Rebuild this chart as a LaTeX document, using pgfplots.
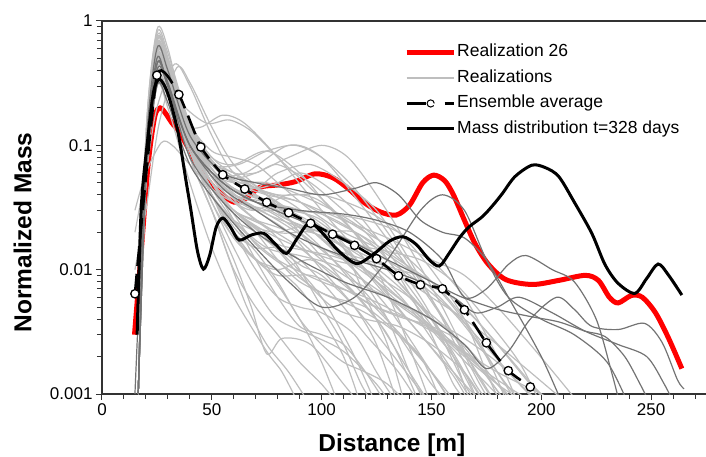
\documentclass[border=0pt]{standalone}
\usepackage{fontspec}
\setmainfont{Liberation Sans}
\usepackage{pgfplots}
\pgfplotsset{compat=1.18}
\definecolor{lgray}{RGB}{190,190,190}
\definecolor{dgray}{RGB}{115,115,115}
\definecolor{rred}{RGB}{255,0,0}
\pgfplotsset{
  real/.style={lgray, line width=1.2pt, smooth, forget plot},
  dreal/.style={dgray, line width=1.2pt, smooth, forget plot},
}
\begin{document}
\begin{tikzpicture}
\path[use as bounding box] (-102pt,-63pt) rectangle (604pt,394pt);
\begin{axis}[
  scale only axis, width=604pt, height=373pt,
  ymode=log, xmin=0, xmax=275, ymin=0.001, ymax=1,
  axis x line*=box, axis y line*=left,
  axis line style={black!80, line width=1.2pt},
  xtick pos=left, ytick pos=left, tick align=outside,
  xtick={0,50,100,150,200,250}, xticklabels={0,50,100,150,200,250},
  minor xtick={10,20,30,40,60,70,80,90,110,120,130,140,160,170,180,190,210,220,230,240,260,270},
  ytick={0.001,0.01,0.1,1}, yticklabels={0.001,0.01,0.1,1},
  minor ytick={0.002,0.003,0.004,0.005,0.006,0.007,0.008,0.009,0.02,0.03,0.04,0.05,0.06,0.07,0.08,0.09,0.2,0.3,0.4,0.5,0.6,0.7,0.8,0.9},
  major tick length=6pt, minor tick length=5pt,
  every tick/.style={black!80, line width=1pt},
  tick label style={font=\fontsize{17}{17}\selectfont},
  xlabel={\bfseries Distance [m]}, ylabel={\bfseries Normalized Mass},
  label style={font=\fontsize{24.5}{24.5}\selectfont},
  xlabel style={at={(axis description cs:0.48,0)}, anchor=center, yshift=-51pt},
  ylabel style={at={(axis description cs:0,0.433)}, anchor=center, yshift=79.5pt},
  legend style={at={(0.495,0.947)}, anchor=north west, draw=none, fill=none,
    font=\fontsize{17.5}{17.5}\selectfont, row sep=6.5pt,
    nodes={inner sep=1pt, text height=13pt, text depth=4pt},
    /tikz/every even column/.append style={column sep=4pt}},
  legend cell align=left,
]
% realization 26
\addplot[rred, line width=5pt, smooth,
  legend image code/.code={\draw[rred, line width=5pt] (0pt,0pt) -- (47pt,0pt);}] coordinates {
 (14.8,0.003)(18,0.015)(21,0.07)(24,0.17)(26.5,0.2)(29,0.18)(32,0.15)(35,0.13)(40,0.09)(45,0.063)
 (50,0.048)(55,0.04)(60,0.035)(65,0.037)(72,0.046)(80,0.048)(88,0.051)(97,0.059)(105,0.055)
 (112,0.045)(120,0.034)(127,0.029)(134,0.0275)(140,0.033)(146,0.05)(151,0.0576)(156,0.052)
 (160,0.04)(165,0.025)(170,0.016)(176,0.011)(184,0.0083)(196,0.0076)(208,0.0082)(220,0.009)
 (226,0.0082)(231,0.006)(235,0.0054)(241,0.0062)(246,0.006)(252,0.0045)(258,0.0028)(264,0.0016)};
\addlegendentry{Realization 26}
% realizations
\addplot[lgray, line width=1.2pt, smooth,
  legend image code/.code={\draw[lgray, line width=1.2pt] (0pt,0pt) -- (47pt,0pt);}] coordinates {
 (16.5,0.001)(20,0.12)(25,0.85)(30,0.6)(35,0.25)(40,0.12)(50,0.07)(60,0.05)(80,0.03)(100,0.015)(120,0.006)(140,0.0025)(160,0.0009)};
\addlegendentry{Realizations}
\addplot[real] coordinates {(16.5,0.001)(20,0.1)(25,0.7)(30,0.5)(35,0.2)(45,0.08)(60,0.06)(75,0.04)(90,0.02)(110,0.008)(130,0.003)(145,0.0008)};
\addplot[real] coordinates {(15,0.02)(20,0.06)(25,0.2)(33,0.45)(40,0.3)(50,0.12)(60,0.06)(80,0.035)(100,0.02)(120,0.012)(140,0.006)(160,0.002)(175,0.0008)};
\addplot[real] coordinates {(16.5,0.001)(20,0.08)(25,0.5)(30,0.35)(38,0.15)(45,0.14)(55,0.175)(65,0.15)(80,0.08)(100,0.03)(120,0.012)(140,0.005)(160,0.0015)(170,0.0008)};
\addplot[real] coordinates {(16.5,0.001)(20,0.1)(25,0.6)(30,0.4)(40,0.12)(50,0.06)(65,0.06)(85,0.1)(100,0.08)(120,0.03)(140,0.01)(160,0.003)(180,0.0008)};
\addplot[real] coordinates {(16.5,0.001)(20,0.09)(25,0.55)(30,0.35)(40,0.1)(50,0.05)(60,0.035)(70,0.03)(85,0.04)(100,0.035)(120,0.015)(135,0.004)(150,0.0008)};
\addplot[real] coordinates {(16.5,0.001)(20,0.05)(25,0.3)(30,0.2)(40,0.05)(50,0.015)(60,0.006)(75,0.0022)(82,0.0015)(90,0.0008)};
\addplot[real] coordinates {(16.5,0.001)(20,0.06)(25,0.4)(30,0.3)(40,0.08)(50,0.03)(60,0.012)(68,0.005)(75,0.0021)(82,0.0028)(95,0.0025)(110,0.0012)(118,0.0008)};
\addplot[real] coordinates {(16.5,0.001)(20,0.1)(25,0.65)(30,0.45)(40,0.13)(50,0.07)(60,0.05)(70,0.045)(80,0.06)(95,0.07)(110,0.05)(125,0.03)(140,0.012)(155,0.004)(170,0.0012)(178,0.0008)};
\addplot[real] coordinates {(16.5,0.001)(20,0.07)(25,0.45)(30,0.35)(40,0.1)(50,0.04)(60,0.02)(70,0.012)(80,0.01)(95,0.012)(110,0.008)(125,0.004)(140,0.0015)(150,0.0008)};
\addplot[real] coordinates {(15,0.03)(20,0.06)(27,0.105)(32,0.1)(40,0.07)(50,0.045)(60,0.035)(75,0.03)(90,0.02)(110,0.01)(130,0.004)(150,0.0012)(160,0.0008)};
\addplot[real] coordinates {(16.5,0.001)(20,0.11)(25,0.75)(30,0.5)(40,0.1)(50,0.04)(60,0.025)(70,0.02)(85,0.012)(100,0.006)(115,0.002)(125,0.0008)};
\addplot[real] coordinates {(16.5,0.001)(20,0.08)(25,0.5)(30,0.4)(40,0.15)(50,0.08)(60,0.07)(75,0.09)(90,0.06)(105,0.03)(120,0.02)(140,0.012)(160,0.005)(180,0.0015)(192,0.0008)};
\addplot[real] coordinates {(16.5,0.001)(20,0.09)(25,0.55)(30,0.42)(40,0.12)(50,0.05)(60,0.03)(75,0.018)(90,0.011)(100,0.009)(115,0.005)(135,0.0018)(150,0.0008)};
\addplot[real] coordinates {(16.5,0.001)(20,0.1)(25,0.6)(30,0.45)(40,0.14)(55,0.06)(70,0.04)(85,0.025)(100,0.02)(115,0.02)(130,0.012)(150,0.004)(165,0.0012)(172,0.0008)};
\addplot[real] coordinates {(16.5,0.001)(20,0.06)(25,0.35)(30,0.28)(40,0.1)(50,0.04)(60,0.02)(70,0.01)(80,0.006)(90,0.005)(100,0.0045)(115,0.003)(125,0.0015)(135,0.0008)};
\addplot[real] coordinates {(16.5,0.001)(20,0.12)(25,0.8)(30,0.55)(40,0.15)(50,0.08)(60,0.06)(70,0.06)(80,0.07)(95,0.05)(110,0.03)(130,0.015)(150,0.007)(170,0.003)(190,0.0012)(200,0.0008)};
\addplot[real] coordinates {(16.5,0.001)(20,0.07)(25,0.42)(30,0.3)(40,0.09)(50,0.05)(60,0.04)(80,0.025)(100,0.015)(120,0.01)(140,0.006)(160,0.003)(175,0.0014)(185,0.0008)};
\addplot[real] coordinates {(16.5,0.001)(20,0.08)(25,0.5)(30,0.35)(40,0.12)(50,0.06)(65,0.03)(80,0.02)(95,0.02)(110,0.015)(125,0.008)(145,0.003)(165,0.0012)(175,0.0008)};
\addplot[real] coordinates {(16.5,0.001)(20,0.09)(25,0.6)(30,0.4)(40,0.11)(50,0.04)(60,0.018)(75,0.01)(90,0.004)(100,0.0018)(108,0.0008)};
\addplot[real] coordinates {(16.5,0.001)(20,0.1)(25,0.65)(30,0.42)(40,0.14)(50,0.07)(60,0.05)(75,0.04)(90,0.035)(105,0.025)(120,0.018)(135,0.012)(150,0.008)(165,0.005)(180,0.0025)(195,0.0012)(205,0.0008)};
\addplot[real] coordinates {(16.5,0.001)(20,0.05)(25,0.3)(30,0.25)(40,0.1)(50,0.06)(60,0.05)(75,0.05)(90,0.04)(105,0.03)(120,0.02)(135,0.009)(150,0.003)(160,0.0012)(168,0.0008)};
\addplot[real] coordinates {(16.5,0.001)(20,0.08)(25,0.5)(30,0.38)(40,0.1)(50,0.035)(60,0.018)(70,0.012)(80,0.01)(90,0.007)(100,0.004)(110,0.002)(118,0.0008)};
\addplot[real] coordinates {(16.5,0.001)(20,0.07)(25,0.45)(30,0.3)(40,0.1)(50,0.05)(60,0.03)(70,0.025)(85,0.02)(100,0.012)(115,0.008)(130,0.006)(145,0.004)(160,0.002)(172,0.0008)};
\addplot[real] coordinates {(16.5,0.001)(20,0.09)(25,0.58)(30,0.4)(40,0.12)(50,0.055)(60,0.04)(70,0.035)(85,0.03)(100,0.028)(115,0.02)(130,0.01)(145,0.005)(160,0.0025)(175,0.0015)(190,0.001)(200,0.0008)};
\addplot[real] coordinates {(16.5,0.001)(20,0.06)(25,0.38)(30,0.3)(40,0.09)(50,0.04)(60,0.02)(70,0.015)(80,0.015)(90,0.012)(100,0.008)(110,0.005)(120,0.003)(135,0.0015)(145,0.0008)};
\addplot[real] coordinates {(16.5,0.001)(20,0.1)(25,0.7)(30,0.48)(40,0.13)(50,0.06)(60,0.04)(75,0.035)(90,0.03)(105,0.028)(120,0.025)(135,0.02)(150,0.012)(165,0.006)(180,0.002)(190,0.0008)};
\addplot[real] coordinates {(16.5,0.001)(20,0.08)(25,0.5)(30,0.36)(40,0.11)(50,0.05)(60,0.03)(75,0.02)(90,0.015)(105,0.012)(120,0.01)(135,0.006)(150,0.0035)(165,0.002)(180,0.0012)(195,0.0008)};
\addplot[real] coordinates {(16.5,0.001)(20,0.05)(25,0.32)(30,0.26)(40,0.08)(50,0.03)(60,0.01)(70,0.005)(80,0.003)(90,0.0018)(100,0.0012)(108,0.0008)};
\addplot[real] coordinates {(16.5,0.001)(20,0.07)(25,0.44)(30,0.34)(40,0.1)(50,0.045)(60,0.03)(70,0.022)(80,0.02)(90,0.022)(100,0.018)(115,0.01)(130,0.004)(140,0.0015)(148,0.0008)};
\addplot[real] coordinates {(16.5,0.001)(20,0.09)(25,0.6)(30,0.45)(40,0.13)(50,0.07)(60,0.055)(70,0.06)(85,0.08)(100,0.1)(112,0.08)(125,0.04)(140,0.015)(155,0.005)(170,0.0015)(180,0.0008)};
\addplot[real] coordinates {(16.5,0.001)(20,0.1)(25,0.68)(30,0.5)(40,0.15)(50,0.09)(60,0.08)(70,0.07)(80,0.05)(95,0.03)(110,0.02)(125,0.015)(140,0.01)(155,0.007)(170,0.004)(185,0.002)(200,0.001)(210,0.0008)};
\addplot[real] coordinates {(16.5,0.001)(20,0.06)(25,0.4)(30,0.33)(40,0.1)(50,0.05)(60,0.025)(70,0.012)(80,0.006)(90,0.0035)(100,0.003)(110,0.0025)(120,0.0015)(130,0.0008)};
\addplot[real] coordinates {(16.5,0.001)(20,0.09)(25,0.55)(30,0.43)(40,0.14)(50,0.06)(60,0.045)(75,0.035)(90,0.025)(105,0.015)(120,0.012)(135,0.01)(150,0.008)(165,0.004)(180,0.0015)(190,0.0008)};
\addplot[real] coordinates {(16.5,0.001)(20,0.07)(25,0.47)(30,0.36)(40,0.1)(50,0.04)(60,0.02)(70,0.012)(80,0.009)(95,0.009)(110,0.007)(125,0.005)(140,0.004)(155,0.003)(170,0.0018)(185,0.0008)};
\addplot[real] coordinates {(16.5,0.001)(20,0.08)(25,0.5)(30,0.4)(40,0.12)(55,0.06)(70,0.045)(90,0.035)(110,0.025)(130,0.018)(150,0.012)(165,0.009)(180,0.005)(195,0.0025)(210,0.0012)(218,0.0008)};
\addplot[real] coordinates {(15,0.01)(20,0.03)(26,0.15)(34,0.42)(40,0.32)(50,0.14)(60,0.07)(75,0.04)(90,0.025)(110,0.012)(130,0.005)(150,0.0015)(160,0.0008)};
\addplot[real] coordinates {(16.5,0.001)(20,0.08)(25,0.5)(30,0.35)(40,0.1)(50,0.04)(65,0.02)(80,0.012)(100,0.008)(120,0.006)(140,0.004)(160,0.0025)(180,0.0012)(190,0.0008)};
\addplot[real] coordinates {(16.5,0.001)(20,0.07)(25,0.45)(30,0.33)(40,0.09)(50,0.035)(60,0.015)(70,0.007)(80,0.004)(95,0.003)(110,0.0022)(125,0.0012)(132,0.0008)};
\addplot[real] coordinates {(16.5,0.001)(20,0.09)(25,0.6)(30,0.42)(40,0.12)(55,0.05)(70,0.03)(85,0.02)(100,0.01)(115,0.005)(125,0.0025)(135,0.0008)};
\addplot[real] coordinates {(16.5,0.001)(20,0.1)(25,0.62)(30,0.45)(40,0.13)(55,0.06)(70,0.04)(85,0.03)(100,0.022)(120,0.015)(140,0.009)(160,0.0045)(175,0.002)(185,0.0008)};
\addplot[real] coordinates {(16.5,0.001)(20,0.08)(25,0.52)(30,0.38)(40,0.11)(50,0.05)(60,0.028)(70,0.016)(85,0.01)(100,0.0065)(115,0.005)(130,0.0035)(145,0.002)(155,0.0008)};
\addplot[real] coordinates {(16.5,0.001)(20,0.1)(25,0.66)(30,0.46)(40,0.14)(50,0.075)(65,0.05)(80,0.04)(100,0.04)(120,0.03)(135,0.02)(150,0.01)(165,0.004)(175,0.0015)(182,0.0008)};
\addplot[real] coordinates {(16.5,0.001)(20,0.07)(25,0.46)(30,0.34)(40,0.1)(50,0.045)(60,0.025)(75,0.015)(90,0.013)(105,0.011)(120,0.008)(140,0.0045)(160,0.0025)(180,0.0015)(200,0.001)(208,0.0008)};
\addplot[real] coordinates {(16.5,0.001)(20,0.09)(25,0.57)(30,0.41)(40,0.12)(50,0.055)(60,0.035)(70,0.025)(80,0.018)(90,0.01)(100,0.005)(110,0.0025)(118,0.0012)(124,0.0008)};
\addplot[real] coordinates {(16.5,0.001)(20,0.06)(25,0.38)(30,0.3)(40,0.11)(50,0.07)(60,0.06)(70,0.045)(85,0.035)(100,0.022)(115,0.012)(130,0.006)(145,0.003)(160,0.0014)(168,0.0008)};
\addplot[real] coordinates {(16.5,0.001)(20,0.08)(25,0.52)(30,0.37)(40,0.11)(50,0.05)(60,0.03)(75,0.022)(90,0.015)(105,0.009)(120,0.0055)(135,0.0042)(150,0.0035)(165,0.0025)(180,0.0012)(188,0.0008)};
\addplot[real] coordinates {(16.5,0.001)(20,0.11)(25,0.72)(30,0.5)(40,0.14)(50,0.07)(60,0.05)(70,0.045)(80,0.05)(90,0.06)(100,0.05)(115,0.03)(130,0.014)(145,0.006)(160,0.002)(168,0.0008)};
\addplot[real] coordinates {(16.5,0.001)(20,0.07)(25,0.42)(30,0.32)(40,0.09)(50,0.04)(60,0.022)(70,0.014)(80,0.008)(90,0.004)(100,0.0025)(110,0.0018)(120,0.0015)(130,0.0012)(140,0.0008)};
\addplot[real] coordinates {(16.5,0.001)(20,0.09)(25,0.58)(30,0.42)(40,0.12)(50,0.06)(60,0.04)(75,0.028)(90,0.022)(105,0.017)(120,0.013)(135,0.009)(150,0.006)(165,0.004)(180,0.0025)(195,0.0015)(210,0.0009)(215,0.0008)};
\addplot[real] coordinates {(16.5,0.001)(20,0.05)(25,0.33)(30,0.27)(40,0.09)(50,0.045)(60,0.03)(70,0.02)(80,0.012)(90,0.008)(105,0.006)(120,0.005)(135,0.003)(150,0.0015)(160,0.0008)};
\addplot[real] coordinates {(16.5,0.001)(20,0.1)(25,0.64)(30,0.44)(40,0.13)(50,0.065)(60,0.045)(70,0.035)(85,0.025)(100,0.02)(115,0.016)(130,0.014)(145,0.012)(160,0.008)(175,0.004)(190,0.0018)(200,0.0008)};
\addplot[real] coordinates {(16.5,0.001)(20,0.06)(25,0.4)(30,0.3)(40,0.08)(50,0.03)(58,0.012)(66,0.005)(75,0.0025)(85,0.0015)(95,0.0008)};
\addplot[real] coordinates {(16.5,0.001)(20,0.08)(25,0.48)(30,0.36)(40,0.1)(50,0.045)(60,0.03)(70,0.022)(80,0.016)(95,0.014)(110,0.012)(125,0.008)(140,0.005)(155,0.0028)(170,0.0015)(185,0.0008)};
\addplot[real] coordinates {(16.5,0.001)(20,0.09)(25,0.56)(30,0.4)(40,0.12)(50,0.06)(60,0.038)(70,0.03)(85,0.03)(100,0.025)(110,0.015)(120,0.006)(130,0.0025)(138,0.0008)};
\addplot[real] coordinates {(16.5,0.001)(20,0.07)(25,0.44)(30,0.33)(40,0.1)(50,0.05)(60,0.03)(75,0.018)(90,0.009)(105,0.005)(120,0.004)(135,0.0035)(150,0.0025)(165,0.0015)(175,0.0008)};
\addplot[real] coordinates {(16.5,0.001)(20,0.1)(25,0.6)(30,0.44)(40,0.13)(50,0.065)(60,0.045)(75,0.035)(90,0.03)(105,0.02)(120,0.01)(135,0.0055)(150,0.004)(165,0.0028)(180,0.0018)(195,0.001)(202,0.0008)};
\addplot[real] coordinates {(16.5,0.001)(20,0.05)(25,0.3)(30,0.3)(38,0.2)(48,0.15)(58,0.16)(68,0.13)(80,0.08)(95,0.045)(110,0.025)(130,0.01)(150,0.004)(165,0.0015)(172,0.0008)};
\addplot[real] coordinates {(16.5,0.001)(20,0.08)(25,0.5)(30,0.38)(40,0.12)(50,0.07)(62,0.07)(75,0.09)(88,0.1)(100,0.08)(115,0.045)(130,0.02)(145,0.008)(160,0.003)(172,0.0012)(178,0.0008)};
% dark grey realizations
\addplot[dreal] coordinates {(15,0.001)(20,0.08)(25,0.5)(30,0.3)(40,0.1)(55,0.05)(70,0.035)(90,0.03)(110,0.028)(125,0.025)(140,0.02)(155,0.012)(165,0.006)(175,0.007)(185,0.011)(193,0.013)(205,0.01)(215,0.008)(225,0.004)(232,0.0015)(236,0.0008)};
\addplot[dreal] coordinates {(16.5,0.001)(20,0.06)(25,0.4)(30,0.3)(40,0.08)(55,0.035)(70,0.02)(90,0.012)(110,0.008)(130,0.006)(150,0.004)(165,0.0025)(175,0.0016)(185,0.0022)(195,0.004)(207,0.006)(215,0.0048)(223,0.0035)(235,0.0033)(247,0.0037)(255,0.0026)(262,0.0013)(265,0.0011)};
\addplot[dreal] coordinates {(16.5,0.001)(20,0.07)(25,0.45)(30,0.32)(40,0.1)(55,0.05)(70,0.035)(90,0.025)(110,0.018)(130,0.012)(150,0.008)(163,0.0061)(180,0.0048)(195,0.0042)(208,0.0038)(220,0.0032)(229,0.0029)(238,0.002)(245,0.0012)(250,0.0008)};
\addplot[dreal] coordinates {(16.5,0.001)(20,0.05)(25,0.3)(30,0.22)(40,0.07)(55,0.03)(70,0.015)(85,0.008)(100,0.005)(115,0.006)(130,0.012)(145,0.03)(155,0.04)(165,0.03)(175,0.012)(185,0.006)(200,0.004)(215,0.003)(230,0.0018)(240,0.0008)};
\addplot[dreal] coordinates {(16.5,0.001)(20,0.09)(25,0.6)(30,0.4)(40,0.12)(55,0.06)(70,0.05)(85,0.045)(100,0.04)(115,0.045)(125,0.05)(135,0.04)(145,0.025)(155,0.02)(165,0.018)(175,0.012)(185,0.006)(200,0.002)(210,0.0008)};
\addplot[dreal] coordinates {(16.5,0.001)(20,0.07)(25,0.45)(30,0.3)(40,0.1)(55,0.045)(70,0.03)(85,0.02)(100,0.015)(115,0.012)(130,0.01)(145,0.008)(160,0.006)(170,0.0045)(180,0.005)(190,0.006)(205,0.0045)(220,0.0032)(235,0.0025)(248,0.002)(256,0.0012)(261,0.0008)};
% ensemble average
\addplot[black, line width=2.6pt, smooth, tension=0.3, dash pattern=on 20pt off 8pt,
  mark=*, mark size=4.2pt, mark options={solid, fill=white, draw=black, line width=1.3pt},
  legend image code/.code={
    \draw[black, line width=2.6pt] (0pt,0pt) -- (19pt,0pt);
    \draw[black, line width=2.6pt] (38pt,0pt) -- (47pt,0pt);
    \draw[black, fill=white, line width=1pt] (24pt,0pt) circle (3.6pt);}] coordinates {
 (15,0.0064)(25,0.366)(35,0.256)(45,0.097)(55,0.058)(65,0.0445)(75,0.0348)(85,0.0287)(95,0.0236)
 (105,0.0193)(115,0.0157)(125,0.01225)(135,0.00893)(145,0.00756)(155,0.00702)(165,0.00476)
 (175,0.00258)(185,0.00154)(195,0.00114)};
\addlegendentry{Ensemble average}
% mass distribution
\addplot[black, line width=3pt, smooth,
  legend image code/.code={\draw[black, line width=3pt] (0pt,0pt) -- (47pt,0pt);}] coordinates {
 (16,0.003)(17.9,0.032)(20.9,0.115)(23.5,0.27)(26.2,0.34)(30,0.26)(34.5,0.13)(38.2,0.0525)
 (40.5,0.030)(43.5,0.014)(46.2,0.0101)(49,0.013)(52,0.022)(55,0.026)(58.5,0.022)(62.4,0.0173)
 (68,0.019)(73.7,0.0196)(79,0.016)(84,0.0135)(89,0.018)(94.5,0.024)(100,0.02)(108,0.014)
 (116,0.0112)(124,0.0135)(131,0.017)(137,0.0184)(143,0.016)(149,0.012)(153.6,0.0107)(158,0.0135)
 (162.6,0.0179)(167,0.022)(173.2,0.0267)(178,0.033)(182.3,0.041)(188,0.056)(195.8,0.0693)
 (202,0.066)(208,0.056)(215,0.035)(223,0.0196)(229,0.011)(235,0.00776)(242.6,0.00645)(248,0.0085)
 (253.2,0.0111)(258,0.009)(264,0.00625)};
\addlegendentry{Mass distribution t=328 days}
\end{axis}
\end{tikzpicture}
\end{document}
